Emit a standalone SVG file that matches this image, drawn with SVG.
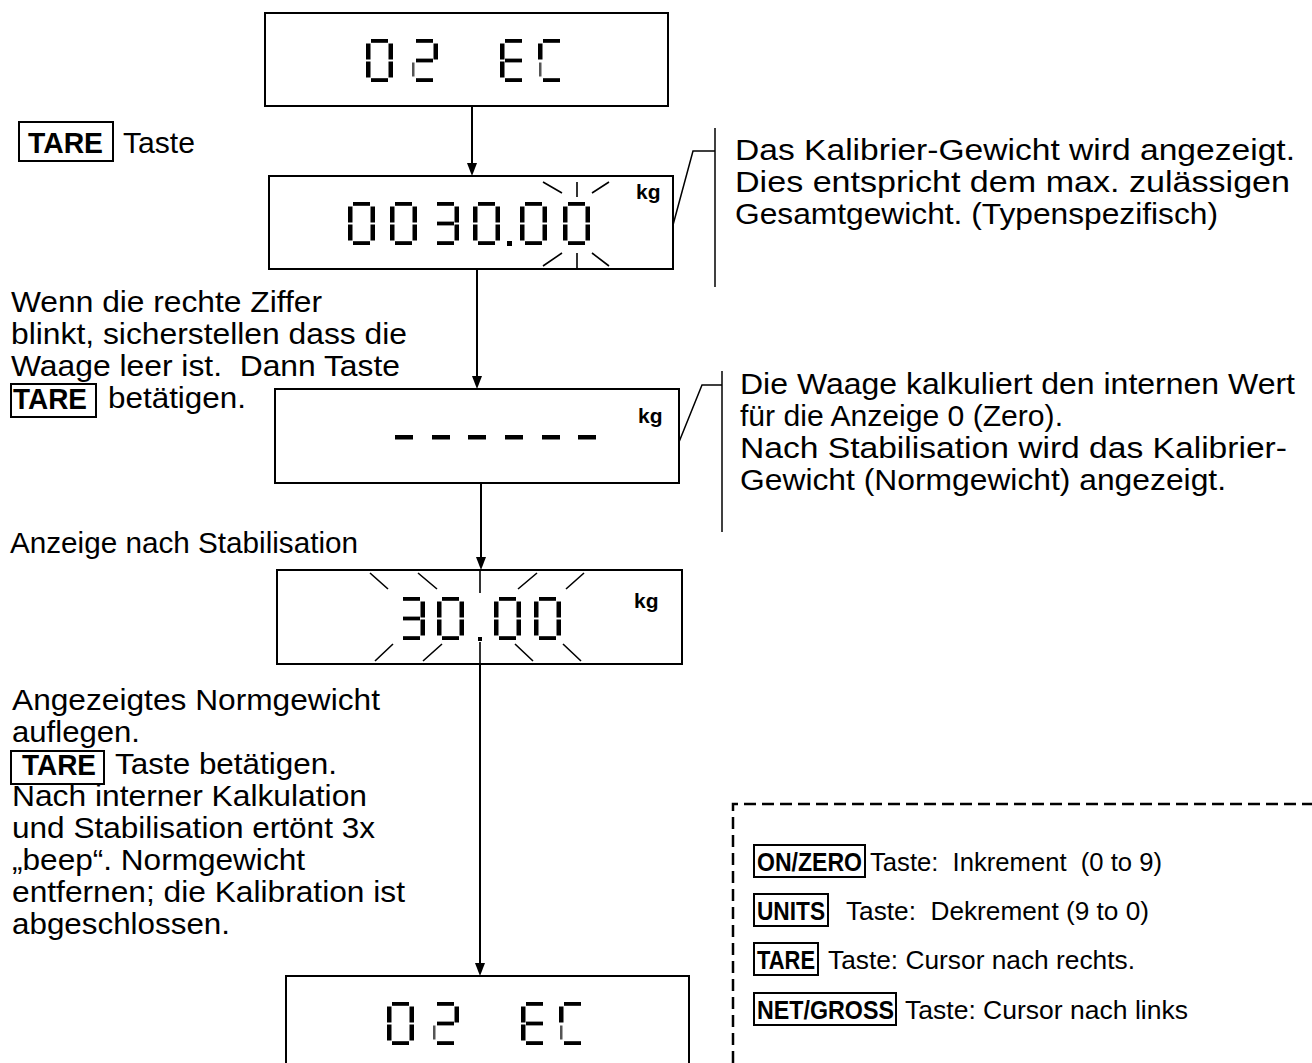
<svg xmlns="http://www.w3.org/2000/svg" xmlns:xlink="http://www.w3.org/1999/xlink" width="1312" height="1063" viewBox="0 0 1312 1063">
<style>
.box{fill:#fff;stroke:#000;stroke-width:2}
.conn{stroke:#000;stroke-width:2;fill:none}
.call{stroke:#000;stroke-width:1.5;fill:none}
.blink{stroke:#000;stroke-width:1.6;fill:none}
.key{fill:none;stroke:#000;stroke-width:2}
.t{font-family:"Liberation Sans",Arial,sans-serif;font-size:30px;fill:#000}
.b{font-weight:bold}
.kg{font-family:"Liberation Sans",Arial,sans-serif;font-size:21px;font-weight:bold;fill:#000}
.leg{font-family:"Liberation Sans",Arial,sans-serif;font-size:26px;fill:#000}
.seg{fill:#000}
.thin{fill:#555}
.dash{stroke:#000;stroke-width:2.5;fill:none;stroke-dasharray:12 6}
</style>
<defs>
<rect id="sa" class="seg" x="5" y="0" width="17" height="3.8"/>
<rect id="sb" class="seg" x="22.5" y="4.5" width="4.5" height="16"/>
<rect id="sc" class="seg" x="22.5" y="22.5" width="4.5" height="16"/>
<rect id="sd" class="seg" x="5" y="39.2" width="17" height="3.8"/>
<rect id="se" class="seg" x="0" y="22.5" width="4.5" height="16"/>
<rect id="sf" class="seg" x="0" y="4.5" width="4.5" height="16"/>
<rect id="sg" class="seg" x="5" y="19.6" width="17" height="3.8"/>
<rect id="set" class="thin" x="1" y="23.5" width="2.5" height="14"/>
<g id="d0"><use xlink:href="#sa"/><use xlink:href="#sb"/><use xlink:href="#sc"/><use xlink:href="#sd"/><use xlink:href="#se"/><use xlink:href="#sf"/></g>
<g id="d2"><use xlink:href="#sa"/><use xlink:href="#sb"/><use xlink:href="#sg"/><use xlink:href="#sd"/><use xlink:href="#set"/></g>
<g id="d3"><use xlink:href="#sa"/><use xlink:href="#sb"/><use xlink:href="#sg"/><use xlink:href="#sc"/><use xlink:href="#sd"/></g>
<g id="dE"><use xlink:href="#sa"/><use xlink:href="#sf"/><use xlink:href="#sg"/><use xlink:href="#se"/><use xlink:href="#sd"/></g>
<g id="dC"><use xlink:href="#sa"/><use xlink:href="#sf"/><use xlink:href="#sd"/><use xlink:href="#set"/></g>
<path id="ah" d="M-5,-13 L5,-13 L0,0 Z" fill="#000"/>
</defs>

<g id="connectors">
<line class="conn" x1="472" y1="106" x2="472" y2="170"/>
<use xlink:href="#ah" x="472" y="176"/>
<line class="conn" x1="477" y1="269" x2="477" y2="383"/>
<use xlink:href="#ah" x="477" y="389"/>
<line class="conn" x1="481" y1="483" x2="481" y2="564"/>
<use xlink:href="#ah" x="481" y="570"/>
<line class="conn" x1="480" y1="664" x2="480" y2="970"/>
<use xlink:href="#ah" x="480" y="976"/>
</g>

<g id="node-1">
<rect class="box" x="265" y="13" width="403" height="93"/>
<use xlink:href="#d0" x="366" y="39"/>
<use xlink:href="#d2" x="411" y="39"/>
<use xlink:href="#dE" x="500" y="39"/>
<use xlink:href="#dC" x="538" y="39"/>
</g>

<g id="note-tare-1">
<rect class="key" x="19" y="122" width="94" height="39"/>
<text class="t b" x="28" y="153" textLength="75" lengthAdjust="spacingAndGlyphs">TARE</text>
<text class="t" x="123" y="153" textLength="72" lengthAdjust="spacingAndGlyphs">Taste</text>
</g>

<g id="node-2">
<rect class="box" x="269" y="176" width="404" height="93"/>
<use xlink:href="#d0" x="348" y="202"/>
<use xlink:href="#d0" x="390" y="202"/>
<use xlink:href="#d3" x="432" y="202"/>
<use xlink:href="#d0" x="473" y="202"/>
<rect class="seg" x="507" y="241" width="5" height="5"/>
<use xlink:href="#d0" x="520" y="202"/>
<use xlink:href="#d0" x="563" y="202"/>
<path class="blink" d="M543,182 L562,193 M577,182 L577,197 M592,193 L609,182 M543,266 L562,253 M577,253 L577,269 M592,253 L609,266"/>
<text class="kg" x="636" y="199">kg</text>
</g>

<g id="callout-1">
<polyline class="call" points="673,225 693,151 715,151"/>
<line class="call" x1="715" y1="128" x2="715" y2="287"/>
<text class="t" x="735" y="160" textLength="560" lengthAdjust="spacingAndGlyphs">Das Kalibrier-Gewicht wird angezeigt.</text>
<text class="t" x="735" y="192" textLength="555" lengthAdjust="spacingAndGlyphs">Dies entspricht dem max. zulässigen</text>
<text class="t" x="735" y="224" textLength="483" lengthAdjust="spacingAndGlyphs">Gesamtgewicht. (Typenspezifisch)</text>
</g>

<g id="note-2">
<text class="t" x="11" y="312" textLength="311" lengthAdjust="spacingAndGlyphs">Wenn die rechte Ziffer</text>
<text class="t" x="11" y="344" textLength="396" lengthAdjust="spacingAndGlyphs">blinkt, sicherstellen dass die</text>
<text class="t" x="11" y="376" textLength="389" lengthAdjust="spacingAndGlyphs" xml:space="preserve">Waage leer ist.  Dann Taste</text>
<rect class="key" x="11" y="384" width="85" height="33"/>
<text class="t b" x="13" y="409" textLength="74" lengthAdjust="spacingAndGlyphs">TARE</text>
<text class="t" x="108" y="408" textLength="138" lengthAdjust="spacingAndGlyphs">betätigen.</text>
</g>

<g id="node-3">
<rect class="box" x="275" y="389" width="404" height="94"/>
<rect class="seg" x="395" y="435" width="18" height="4.5"/>
<rect class="seg" x="432" y="435" width="18" height="4.5"/>
<rect class="seg" x="468" y="435" width="18" height="4.5"/>
<rect class="seg" x="505" y="435" width="18" height="4.5"/>
<rect class="seg" x="542" y="435" width="18" height="4.5"/>
<rect class="seg" x="578" y="435" width="18" height="4.5"/>
<text class="kg" x="638" y="423">kg</text>
</g>

<g id="callout-2">
<polyline class="call" points="679,442 702,385 722,385"/>
<line class="call" x1="722" y1="371" x2="722" y2="532"/>
<text class="t" x="740" y="394" textLength="555" lengthAdjust="spacingAndGlyphs">Die Waage kalkuliert den internen Wert</text>
<text class="t" x="740" y="426" textLength="323" lengthAdjust="spacingAndGlyphs">für die Anzeige 0 (Zero).</text>
<text class="t" x="740" y="458" textLength="547" lengthAdjust="spacingAndGlyphs">Nach Stabilisation wird das Kalibrier-</text>
<text class="t" x="740" y="490" textLength="486" lengthAdjust="spacingAndGlyphs">Gewicht (Normgewicht) angezeigt.</text>
</g>

<g id="note-3">
<text class="t" x="10" y="553" textLength="348" lengthAdjust="spacingAndGlyphs">Anzeige nach Stabilisation</text>
</g>

<g id="node-4">
<rect class="box" x="277" y="570" width="405" height="94"/>
<use xlink:href="#d3" x="398" y="597"/>
<use xlink:href="#d0" x="437" y="597"/>
<rect class="seg" x="478" y="637" width="4" height="4"/>
<use xlink:href="#d0" x="494" y="597"/>
<use xlink:href="#d0" x="534" y="597"/>
<path class="blink" d="M370,573 L388,589 M418,573 L437,589 M480,570 L480,593 M518,589 L537,573 M566,589 L584,573 M375,661 L393,644 M423,661 L442,644 M480,642 L480,664 M515,644 L533,661 M563,644 L581,661"/>
<text class="kg" x="634" y="608">kg</text>
</g>

<g id="note-4">
<text class="t" x="12" y="710" textLength="368" lengthAdjust="spacingAndGlyphs">Angezeigtes Normgewicht</text>
<text class="t" x="12" y="742" textLength="128" lengthAdjust="spacingAndGlyphs">auflegen.</text>
<rect class="key" x="11" y="751" width="93" height="33"/>
<text class="t b" x="22" y="775" textLength="74" lengthAdjust="spacingAndGlyphs">TARE</text>
<text class="t" x="115" y="774" textLength="222" lengthAdjust="spacingAndGlyphs">Taste betätigen.</text>
<text class="t" x="12" y="806" textLength="355" lengthAdjust="spacingAndGlyphs">Nach interner Kalkulation</text>
<text class="t" x="12" y="838" textLength="363" lengthAdjust="spacingAndGlyphs">und Stabilisation ertönt 3x</text>
<text class="t" x="12" y="870" textLength="293" lengthAdjust="spacingAndGlyphs">„beep“. Normgewicht</text>
<text class="t" x="12" y="902" textLength="393" lengthAdjust="spacingAndGlyphs">entfernen; die Kalibration ist</text>
<text class="t" x="12" y="934" textLength="218" lengthAdjust="spacingAndGlyphs">abgeschlossen.</text>
</g>

<g id="node-5">
<rect class="box" x="286" y="976" width="403" height="100"/>
<use xlink:href="#d0" x="387" y="1002"/>
<use xlink:href="#d2" x="432" y="1002"/>
<use xlink:href="#dE" x="521" y="1002"/>
<use xlink:href="#dC" x="559" y="1002"/>
</g>

<g id="legend">
<polyline class="dash" points="733,1063 733,804 1312,804"/>
<rect class="key" x="754" y="845" width="111" height="32"/>
<text class="leg b" x="757" y="871" textLength="105" lengthAdjust="spacingAndGlyphs">ON/ZERO</text>
<text class="leg" x="870" y="871" textLength="292" lengthAdjust="spacingAndGlyphs" xml:space="preserve">Taste:  Inkrement  (0 to 9)</text>
<rect class="key" x="754" y="894" width="74" height="32"/>
<text class="leg b" x="757" y="920" textLength="68" lengthAdjust="spacingAndGlyphs">UNITS</text>
<text class="leg" x="846" y="920" textLength="303" lengthAdjust="spacingAndGlyphs" xml:space="preserve">Taste:  Dekrement (9 to 0)</text>
<rect class="key" x="754" y="943" width="64" height="32"/>
<text class="leg b" x="757" y="969" textLength="58" lengthAdjust="spacingAndGlyphs">TARE</text>
<text class="leg" x="828" y="969" textLength="307" lengthAdjust="spacingAndGlyphs">Taste: Cursor nach rechts.</text>
<rect class="key" x="754" y="993" width="142" height="32"/>
<text class="leg b" x="757" y="1019" textLength="137" lengthAdjust="spacingAndGlyphs">NET/GROSS</text>
<text class="leg" x="905" y="1019" textLength="283" lengthAdjust="spacingAndGlyphs">Taste: Cursor nach links</text>
</g>
</svg>
